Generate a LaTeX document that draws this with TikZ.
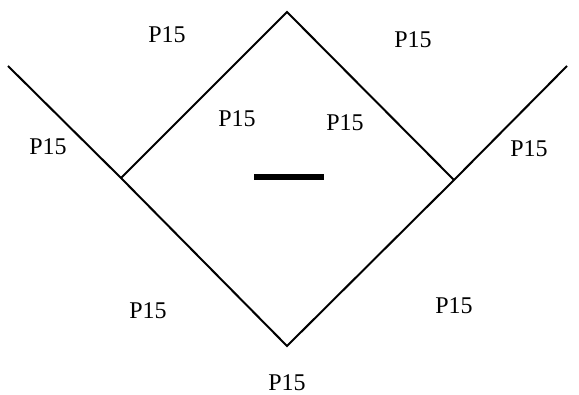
\documentclass[tikz,border=0pt]{standalone}
\usepackage{fontspec}
\setmainfont{Liberation Serif}
\usepackage{tikz}

\begin{document}
\begin{tikzpicture}[
  x=0.75pt, y=-0.75pt,
  every node/.style={font=\fontsize{18}{20}\selectfont},
  edge/.style={line width=1.5pt, line join=miter},
  lbl/.style={inner sep=0pt}
]
\useasboundingbox (0,0) rectangle (579,395);

% ── corner points of the outline ─────────────────────────────────────────
\coordinate (top) at (287,12);
\coordinate (lft) at (121,178);
\coordinate (rgt) at (454,180);
\coordinate (bot) at (287,346);
\coordinate (lend) at (8,66);
\coordinate (rend) at (567,66);

% ── diamond and the two arms ─────────────────────────────────────────────
\draw[edge] (lend) -- (lft) -- (bot) -- (rgt) -- (rend);
\draw[edge] (lft) -- (top) -- (rgt);

% ── bar in the middle ────────────────────────────────────────────────────
\coordinate (barl) at (254,177);
\coordinate (barr) at (324,177);
\draw[line width=3.8pt] (barl) -- (barr);

% ── labels ───────────────────────────────────────────────────────────────
\node[lbl] (ptopl) at (167,35)  {P15};
\node[lbl] (ptopr) at (413,40)  {P15};
\node[lbl] (pinl)  at (237,119) {P15};
\node[lbl] (pinr)  at (345,123) {P15};
\node[lbl] (parml) at (48,147)  {P15};
\node[lbl] (parmr) at (529,149) {P15};
\node[lbl] (pbotl) at (148,311) {P15};
\node[lbl] (pbotr) at (454,306) {P15};
\node[lbl] (pbot)  at (287,383) {P15};

\end{tikzpicture}
\end{document}
